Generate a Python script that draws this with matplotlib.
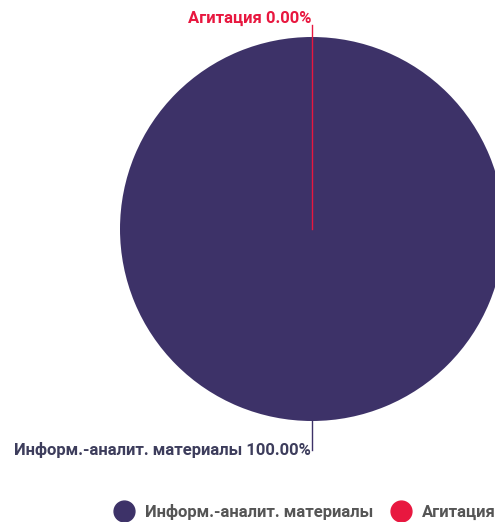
import numpy as np
import matplotlib.pyplot as plt
from matplotlib.lines import Line2D

plt.rcParams['font.family'] = ['Roboto', 'DejaVu Sans']

labels = ['Информ.-аналит. материалы', 'Агитация']
values = [100.0, 0.0]
colors = ['#3d3268', '#e8173f']
label_colors = ['#3d3d5c', '#e8173f']

fig = plt.figure(figsize=(4.95, 5.22), dpi=100)
ax = fig.add_axes([0, 0, 1, 1])

cx, cy, r = 312, 293, 192
ax.pie(values, colors=colors, startangle=90, counterclock=False,
       center=(cx, cy), radius=r, frame=True)
ax.set_xlim(0, 495)
ax.set_ylim(0, 522)
ax.set_aspect('equal')
ax.axis('off')

total = sum(values)
pct = [v / total * 100 for v in values]
cum = np.cumsum([0] + values) / total
# leader lines + labels
ends = [72, 497]
for i in range(len(values)):
    mid = (cum[i] + cum[i + 1]) / 2
    ang = np.deg2rad(90 - mid * 360)
    dx, dy = np.cos(ang), np.sin(ang)
    if values[i] == 0:
        x0, y0 = cx, cy
    else:
        x0, y0 = cx + r * dx, cy + r * dy
    y1 = ends[i]
    ax.plot([x0, x0], [y0, y1], color=colors[i], lw=1)
    txt = '%s %.2f%%' % (labels[i], pct[i])
    if dy < 0:
        ax.text(x0 - 1, y1, txt, ha='right', va='center', fontsize=12,
                fontweight='bold', color=label_colors[i])
    else:
        ax.text(x0 - 1, y1 - 1, txt, ha='right', va='bottom', fontsize=12,
                fontweight='bold', color=label_colors[i])

handles = [Line2D([], [], marker='o', ls='', markersize=15, color=c) for c in colors]
ax.legend(handles, labels, loc='center left', bbox_to_anchor=(92, 10),
          bbox_transform=ax.transData, ncol=2, frameon=False,
          handletextpad=0.3, columnspacing=0.62, labelcolor='#555555',
          prop={'weight': 'bold', 'size': 12})

fig.savefig('out.png', dpi=100)
